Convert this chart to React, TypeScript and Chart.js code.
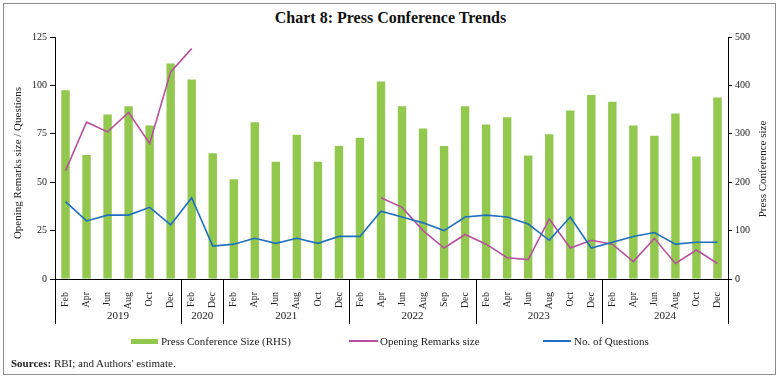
import React, { useEffect, useRef } from 'react';
import { Chart, registerables } from 'chart.js';

Chart.register(...registerables);

const months = ['Feb','Apr','Jun','Aug','Oct','Dec','Feb','Dec','Feb','Apr','Jun','Aug','Oct','Dec','Feb','Apr','Jun','Aug','Sep','Dec','Feb','Apr','Jun','Aug','Oct','Dec','Feb','Apr','Jun','Aug','Oct','Dec'];
const years = ['2019','2020','2021','2022','2023','2024'];
const yearCounts = [6, 2, 6, 6, 6, 6];
const pressConferenceSize = [390,256,340,357,317,445,412,260,206,324,242,298,242,275,292,408,357,311,275,357,319,334,255,299,348,380,366,317,296,342,253,375];
const openingRemarks: (number | null)[] = [56,81,76,86,70,107,119,null,null,null,null,null,null,null,null,42,37,25,16,23,18,11,10,31,16,20,18,9,21,8,15,8];
const questions = [40,30,33,33,37,28,42,17,18,21,18.4,21,18.4,22,22,35,32,29,25,32,33,32,28.4,20,32,16,19,22,24,18,19,19];
const leftTicks = [0, 25, 50, 75, 100, 125];
const rightTicks = [0, 100, 200, 300, 400, 500];

const FONT = "'Liberation Serif', 'Times New Roman', serif";
const GREEN = '#92c84e';
const PINK = '#b8509f';
const BLUE = '#1f6fc1';

const groupPlugin = {
  id: 'groupPlugin',
  afterDraw(chart: any) {
    const ctx = chart.ctx;
    const xs = chart.scales.x;
    const area = chart.chartArea;
    const n = months.length;
    const step = (xs.right - xs.left) / n;
    ctx.save();
    ctx.strokeStyle = '#000';
    ctx.lineWidth = 1;
    let b = 0;
    const bounds = [0];
    yearCounts.forEach((c) => { b += c; bounds.push(b); });
    bounds.forEach((bi) => {
      const x = Math.round(xs.left + bi * step) + 0.5;
      ctx.beginPath();
      ctx.moveTo(x, area.bottom);
      ctx.lineTo(x, 324);
      ctx.stroke();
    });
    ctx.fillStyle = '#222';
    ctx.font = `11px ${FONT}`;
    ctx.textAlign = 'center';
    ctx.textBaseline = 'middle';
    years.forEach((y, i) => {
      const x = xs.left + ((bounds[i] + bounds[i + 1]) / 2) * step;
      ctx.fillText(y, x, 316);
    });
    // axis titles
    ctx.font = `11px ${FONT}`;
    ctx.save();
    ctx.translate(18, 163);
    ctx.rotate(-Math.PI / 2);
    ctx.fillText('Opening Remarks size / Questions', 0, 0);
    ctx.restore();
    ctx.save();
    ctx.translate(763, 169);
    ctx.rotate(-Math.PI / 2);
    ctx.fillText('Press Conference size', 0, 0);
    ctx.restore();
    ctx.restore();
  },
};

export default function App() {
  const ref = useRef<HTMLCanvasElement | null>(null);
  useEffect(() => {
    if (!ref.current) return;
    const chart = new Chart(ref.current, {
      type: 'bar',
      data: {
        labels: months,
        datasets: [
          {
            type: 'line',
            label: 'No. of Questions',
            data: questions,
            yAxisID: 'y',
            borderColor: BLUE,
            backgroundColor: BLUE,
            borderWidth: 1.6,
            pointRadius: 0,
            tension: 0,
            order: 0,
          } as any,
          {
            type: 'line',
            label: 'Opening Remarks size',
            data: openingRemarks,
            yAxisID: 'y',
            borderColor: PINK,
            backgroundColor: PINK,
            borderWidth: 1.6,
            pointRadius: 0,
            tension: 0,
            spanGaps: false,
            order: 1,
          } as any,
          {
            type: 'bar',
            label: 'Press Conference Size (RHS)',
            data: pressConferenceSize,
            yAxisID: 'y1',
            backgroundColor: GREEN,
            barPercentage: 0.4,
            categoryPercentage: 1,
            order: 2,
          } as any,
        ],
      },
      options: {
        responsive: false,
        animation: false,
        layout: { padding: { top: 37, left: 0, right: 0, bottom: 0 } },
        plugins: { legend: { display: false }, tooltip: { enabled: false }, title: { display: false } },
        scales: {
          x: {
            offset: true,
            grid: { display: false },
            border: { display: true, color: '#000', width: 1 },
            ticks: {
              autoSkip: false,
              minRotation: 90,
              maxRotation: 90,
              padding: 5,
              color: '#222',
              font: { family: FONT, size: 10 },
            },
            afterFit(scale: any) { scale.height = 101; },
          },
          y: {
            position: 'left',
            min: 0,
            max: 125,
            afterBuildTicks(scale: any) { scale.ticks = leftTicks.map((v) => ({ value: v })); },
            grid: { display: true, drawOnChartArea: false, drawTicks: true, tickLength: 5, color: '#000' },
            border: { display: true, color: '#000', width: 1 },
            ticks: { color: '#222', padding: 3, font: { family: FONT, size: 10 } },
            afterFit(scale: any) { scale.width = 55; },
          },
          y1: {
            position: 'right',
            min: 0,
            max: 500,
            afterBuildTicks(scale: any) { scale.ticks = rightTicks.map((v) => ({ value: v })); },
            grid: { display: true, drawOnChartArea: false, drawTicks: true, tickLength: 4, color: '#000' },
            border: { display: true, color: '#000', width: 1 },
            ticks: { color: '#222', padding: 3, font: { family: FONT, size: 10 } },
            afterFit(scale: any) { scale.width = 53; },
          },
        },
      } as any,
      plugins: [groupPlugin],
    });
    return () => chart.destroy();
  }, []);

  const text: React.CSSProperties = { position: 'absolute', fontFamily: FONT, fontSize: 11, color: '#222', lineHeight: '14px', whiteSpace: 'nowrap' };
  return (
    <div style={{ position: 'fixed', left: 0, top: 0, width: 781, height: 380, background: '#fff', overflow: 'hidden' }}>
      <div style={{ position: 'absolute', left: 3, top: 3, width: 771, height: 370, border: '1.5px solid #8c8c8c' }} />
      <div style={{ position: 'absolute', left: 0, width: 781, top: 8, textAlign: 'center', fontFamily: FONT, fontWeight: 'bold', fontSize: 16, lineHeight: '20px', color: '#111' }}>
        Chart 8: Press Conference Trends
      </div>
      <canvas ref={ref} width={781} height={380} style={{ position: 'absolute', left: 0, top: 0 }} />
      <div style={{ position: 'absolute', left: 131, top: 339, width: 27, height: 5, background: GREEN }} />
      <div style={{ ...text, left: 161, top: 334 }}>Press Conference Size (RHS)</div>
      <div style={{ position: 'absolute', left: 349, top: 340, width: 29, height: 2, background: PINK }} />
      <div style={{ ...text, left: 380, top: 334 }}>Opening Remarks size</div>
      <div style={{ position: 'absolute', left: 543, top: 340, width: 28, height: 2, background: BLUE }} />
      <div style={{ ...text, left: 574, top: 334 }}>No. of Questions</div>
      <div style={{ ...text, left: 11, top: 356 }}><b>Sources:</b> RBI; and Authors' estimate.</div>
    </div>
  );
}
